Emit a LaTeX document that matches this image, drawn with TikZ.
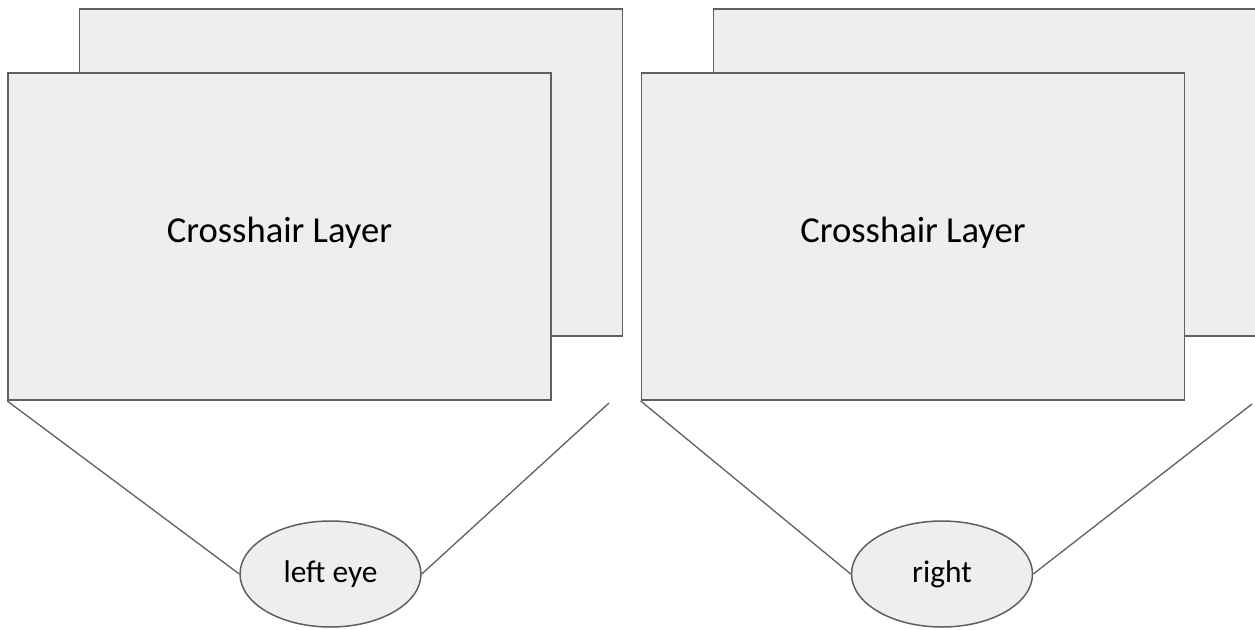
\documentclass[tikz,border=0pt]{standalone}
\usepackage{fontspec}
\setmainfont{Carlito}
\usetikzlibrary{shapes.geometric}
\definecolor{layerfill}{HTML}{EEEEEE}
\definecolor{layerline}{HTML}{5F5F5F}
\tikzset{
  layer/.style={draw=layerline, fill=layerfill, line width=1.8pt, inner sep=0pt,
    minimum width=543pt, minimum height=327pt},
  eye/.style={ellipse, draw=layerline, fill=layerfill, line width=1.5pt, inner sep=0pt,
    minimum width=181pt, minimum height=106pt, font=\fontsize{31.4}{36}\selectfont},
  ray/.style={draw=layerline, line width=1.3pt}
}

\begin{document}
\begin{tikzpicture}[x=1pt, y=-1pt]
  \useasboundingbox (0,0) rectangle (1255,629);
  % left eye
  \node[layer] (backL) at (351,172.5) {};
  \node[layer] (frontL) at (279.5,236.5) {};
  \node[anchor=base, font=\fontsize{36.6}{44}\selectfont] (textL) at (279.5,242) {Crosshair Layer};
  \coordinate (endL) at (609,403);
  \node[eye] (eyeL) at (330.5,574) {left eye};
  \draw[ray] (frontL.south west) -- (eyeL.west);
  \draw[ray] (endL) -- (eyeL.east);
  % right eye
  \node[layer] (backR) at (985,172.5) {};
  \node[layer] (frontR) at (913,236.5) {};
  \node[anchor=base, font=\fontsize{36.6}{44}\selectfont] (textR) at (913,242) {Crosshair Layer};
  \coordinate (endR) at (1252,404);
  \node[eye] (eyeR) at (942,574) {right};
  \draw[ray] (frontR.south west) -- (eyeR.west);
  \draw[ray] (endR) -- (eyeR.east);
\end{tikzpicture}
\end{document}
